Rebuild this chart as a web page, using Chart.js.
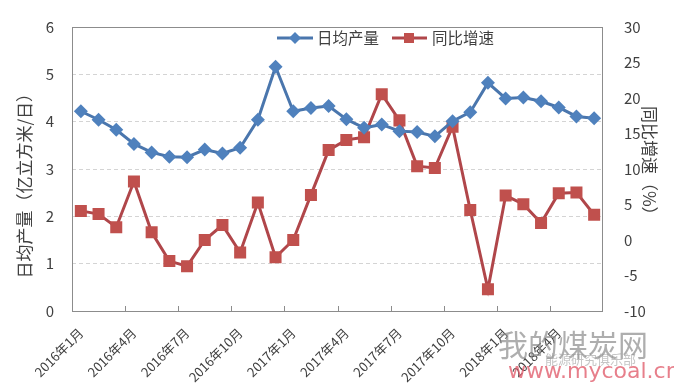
<!DOCTYPE html>
<html>
<head>
<meta charset="utf-8">
<script src="https://cdn.jsdelivr.net/npm/chart.js@4"></script>
<style>
  html, body { margin: 0; padding: 0; background: #fff; }
</style>
</head>
<body>
<canvas id="gasChart" width="674" height="388"></canvas>
<script>
const months = [
  '2016年1月','2016年2月','2016年3月','2016年4月','2016年5月','2016年6月',
  '2016年7月','2016年8月','2016年9月','2016年10月','2016年11月','2016年12月',
  '2017年1月','2017年2月','2017年3月','2017年4月','2017年5月','2017年6月',
  '2017年7月','2017年8月','2017年9月','2017年10月','2017年11月','2017年12月',
  '2018年1月','2018年2月','2018年3月','2018年4月','2018年5月','2018年6月'
];
const dailyOutput = [4.22, 4.04, 3.83, 3.53, 3.35, 3.26, 3.25, 3.41, 3.33, 3.45,
  4.04, 5.16, 4.22, 4.29, 4.33, 4.05, 3.87, 3.94, 3.80, 3.78,
  3.69, 4.01, 4.20, 4.82, 4.49, 4.51, 4.43, 4.30, 4.11, 4.07];
const yoyGrowth = [4.1, 3.65, 1.8, 8.24, 1.08, -2.97, -3.7, 0.0, 2.1, -1.76,
  5.27, -2.43, 0.0, 6.35, 12.66, 14.1, 14.46, 20.54, 16.85, 10.4,
  10.14, 15.95, 4.23, -6.93, 6.26, 5.05, 2.39, 6.58, 6.7, 3.55];
const leftRange = [0, 6];
const rightRange = [-10, 30];

const BLUE_LINE = '#4a76ad';
const BLUE_PT = '#4f81bd';
const RED_LINE = '#b0464a';
const RED_PT = '#c0504d';
const TXT = '#404040';
const CJK = '"Noto Sans CJK SC", "Noto Sans", sans-serif';

// plot frame + inside tick marks every 3 months
const framePlugin = {
  id: 'frame',
  beforeDatasetsDraw(chart) {
    const { ctx, chartArea: a, scales: { x } } = chart;
    ctx.save();
    ctx.strokeStyle = '#8c8c8c';
    ctx.lineWidth = 1;
    ctx.strokeRect(a.left + 0.5, a.top + 0.5, a.right - a.left - 1, a.bottom - a.top);
    const half = (x.getPixelForValue(1) - x.getPixelForValue(0)) / 2;
    ctx.beginPath();
    for (let i = 3; i < months.length; i += 3) {
      const px = Math.round(x.getPixelForValue(i) - half) + 0.5;
      ctx.moveTo(px, a.bottom);
      ctx.lineTo(px, a.bottom - 5);
    }
    ctx.stroke();
    ctx.restore();
  }
};

// Excel-style legend (line with marker) inside the plot
const legendPlugin = {
  id: 'xlLegend',
  afterDraw(chart) {
    const ctx = chart.ctx;
    const y = 38;
    ctx.save();
    ctx.lineWidth = 3;
    ctx.strokeStyle = BLUE_LINE;
    ctx.beginPath(); ctx.moveTo(277, y); ctx.lineTo(313, y); ctx.stroke();
    ctx.fillStyle = BLUE_PT;
    ctx.beginPath();
    ctx.moveTo(295, y - 6); ctx.lineTo(301, y); ctx.lineTo(295, y + 6); ctx.lineTo(289, y);
    ctx.closePath(); ctx.fill();
    ctx.strokeStyle = RED_LINE;
    ctx.beginPath(); ctx.moveTo(392, y); ctx.lineTo(427, y); ctx.stroke();
    ctx.fillStyle = RED_PT;
    ctx.fillRect(404, y - 5, 10, 10);
    ctx.fillStyle = TXT;
    ctx.font = '15.5px ' + CJK;
    ctx.textBaseline = 'middle';
    ctx.fillText('日均产量', 317, y);
    ctx.fillText('同比增速', 432, y);
    ctx.restore();
  }
};

// source watermark
const markPlugin = {
  id: 'mark',
  afterDraw(chart) {
    const ctx = chart.ctx;
    ctx.save();
    ctx.textBaseline = 'alphabetic';
    ctx.fillStyle = 'rgba(140,140,140,0.7)';
    ctx.font = '30px ' + CJK;
    ctx.fillText('我的煤炭网', 498, 356);
    ctx.fillStyle = 'rgba(150,150,150,0.55)';
    ctx.font = '13px ' + CJK;
    ctx.fillText('能源研究俱乐部', 545, 364);
    ctx.fillStyle = 'rgba(225,95,110,0.8)';
    ctx.font = '22px "DejaVu Sans", sans-serif';
    ctx.fillText('www.mycoal.cn', 508, 378);
    ctx.restore();
  }
};

new Chart(document.getElementById('gasChart'), {
  type: 'line',
  data: {
    labels: months,
    datasets: [
      {
        label: '日均产量',
        data: dailyOutput,
        yAxisID: 'y',
        borderColor: BLUE_LINE,
        backgroundColor: BLUE_PT,
        borderWidth: 3,
        pointStyle: 'rectRot',
        pointRadius: 7,
        pointBorderWidth: 0,
        pointBackgroundColor: BLUE_PT,
        tension: 0
      },
      {
        label: '同比增速',
        data: yoyGrowth,
        yAxisID: 'y1',
        borderColor: RED_LINE,
        backgroundColor: RED_PT,
        borderWidth: 3,
        pointStyle: 'rect',
        pointRadius: 8.5,
        pointBorderWidth: 0,
        pointBackgroundColor: RED_PT,
        tension: 0
      }
    ]
  },
  options: {
    responsive: false,
    animation: false,
    layout: { padding: { top: 15, left: 0, right: 0, bottom: 0 } },
    plugins: {
      legend: { display: false },
      tooltip: { enabled: false }
    },
    scales: {
      x: {
        offset: true,
        grid: { display: false },
        border: { display: false },
        ticks: {
          autoSkip: false,
          minRotation: 45,
          maxRotation: 45,
          padding: 6,
          color: TXT,
          font: { size: 13, family: CJK },
          callback: (v, i) => (i % 3 === 0 ? months[i] : '')
        },
        afterFit: s => { s.height = 77; }
      },
      y: {
        position: 'left',
        min: leftRange[0],
        max: leftRange[1],
        grid: {
          drawTicks: false,
          color: c => (c.tick && (c.tick.value === leftRange[0] || c.tick.value === leftRange[1])) ? 'rgba(0,0,0,0)' : '#d4d4d4'
        },
        border: { display: false, dash: [4, 3] },
        ticks: { stepSize: 1, padding: 18, color: TXT, font: { size: 15, family: CJK } },
        title: {
          display: true,
          text: '日均产量（亿立方米/日）　　',
          color: TXT,
          font: { size: 17, family: CJK },
          padding: { top: 14, bottom: 0 }
        },
        afterFit: s => { s.width = 72; }
      },
      y1: {
        position: 'right',
        min: rightRange[0],
        max: rightRange[1],
        grid: { display: false },
        border: { display: false },
        ticks: { stepSize: 5, padding: 13, color: TXT, font: { size: 15, family: CJK } },
        title: {
          display: true,
          text: '同比增速（%）　',
          color: TXT,
          font: { size: 17, family: CJK },
          padding: { top: 14, bottom: 0 }
        },
        afterFit: s => { s.width = 71; }
      }
    }
  },
  plugins: [framePlugin, legendPlugin, markPlugin]
});
</script>
</body>
</html>
